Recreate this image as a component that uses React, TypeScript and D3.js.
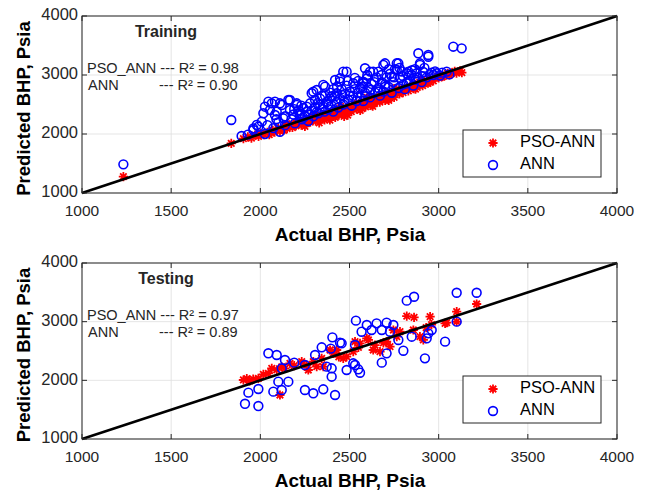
import React from "react";
import * as d3 from "d3";

const xTicks = [1000, 1500, 2000, 2500, 3000, 3500, 4000];
const yTicks = [1000, 2000, 3000, 4000];
const seriesNames = ["PSO-ANN", "ANN"];
const panelTitles = ["Training", "Testing"];
const r2Pso = ["0.98", "0.97"];
const r2Ann = ["0.90", "0.89"];

const trainPSO: [number, number][] = [
  [1232,1276],[1837,1842],[1905,1920],[1930,1950],[1950,1930],[1970,1980],[1990,1960],[2000,2010],[2020,1990],[2040,2030],
  [2050,1990],[2070,2060],[2080,2030],[2100,2090],[2110,2050],[2120,2080],[2140,2120],[2150,2090],[2160,2150],[2180,2110],
  [2190,2170],[2200,2140],[2220,2200],[2230,2150],[2240,2210],[2260,2190],[2270,2250],[2280,2200],[2300,2270],[2310,2220],
  [2320,2300],[2340,2260],[2350,2330],[2360,2240],[2380,2330],[2390,2237],[2400,2360],[2410,2300],[2430,2390],[2440,2320],
  [2450,2420],[2470,2370],[2480,2440],[2490,2320],[2500,2460],[2510,2380],[2530,2500],[2540,2420],[2550,2510],[2560,2400],
  [2580,2540],[2590,2460],[2600,2570],[2620,2490],[2630,2590],[2640,2520],[2660,2620],[2670,2540],[2680,2640],[2700,2570],
  [2710,2680],[2720,2600],[2740,2700],[2750,2620],[2760,2730],[2780,2680],[2790,2760],[2800,2700],[2820,2780],[2830,2730],
  [2840,2810],[2860,2770],[2870,2840],[2880,2790],[2900,2870],[2910,2820],[2920,2890],[2940,2860],[2950,2930],[2970,2900],
  [2980,2960],[3000,2950],[3010,2990],[3030,2980],[3050,3030],[3070,3020],[3090,3060],[3100,3030],[3120,3070],[3130,3040],
  [2150,2170],[2300,2320],[2450,2470],[2600,2620],[2750,2770],[2900,2920],[2200,2180],[2350,2300],[2500,2410],[2650,2560],
  [2800,2740],[2950,2880],[2420,2280],[2570,2430],[2720,2570],[2870,2760],[2250,2130],[2330,2190],
  [2060,2020],[2130,2060],[2210,2170],[2290,2240],[2370,2280],[2460,2350],[2520,2440],[2610,2530],[2690,2600],[2770,2720],
  [2850,2800],[2930,2870],[3020,2970],[2390,2360],[2550,2470],[2730,2650],[2890,2830],[3060,3000],[2470,2300],[2630,2470]
];

const trainANN: [number, number][] = [
  [1232,1486],[1837,2237],[1895,1966],[1930,1990],[1961,2068],[1961,2096],[1980,2153],[1989,2124],[2008,2209],[2017,2351],
  [2026,2463],[2026,2000],[2045,2548],[2054,2407],[2064,2520],[2073,2100],[2082,2322],[2082,2548],[2092,2379],[2101,2200],
  [2110,2520],[2110,2039],[2120,2492],[2129,2266],[2138,2150],[2157,2576],[2166,2407],[2166,2576],[2175,2250],[2185,2330],
  [2194,2180],[2204,2492],[2204,2520],[2213,2400],[2222,2351],[2222,2322],[2232,2250],[2241,2440],[2250,2300],[2260,2463],
  [2260,2380],[2269,2220],[2279,2520],[2288,2690],[2288,2400],[2297,2718],[2297,2300],[2307,2576],[2307,2450],[2316,2746],
  [2316,2370],[2325,2351],[2335,2600],[2335,2500],[2344,2420],[2353,2831],[2353,2463],[2363,2802],[2363,2650],[2372,2540],
  [2381,2420],[2391,2700],[2391,2600],[2400,2480],[2409,2760],[2409,2380],[2419,2915],[2419,2640],[2428,2690],[2428,2540],
  [2437,2450],[2447,2887],[2447,2944],[2447,2600],[2456,2760],[2465,3057],[2465,2500],[2475,2680],[2484,3057],[2484,2820],
  [2493,2580],[2503,2720],[2512,2480],[2521,2860],[2521,2650],[2531,2760],[2540,2560],[2549,2900],[2549,2700],[2559,2620],
  [2568,2800],[2577,2860],[2577,2887],[2577,2560],[2587,3114],[2587,2700],[2597,2940],[2606,2780],[2615,3057],[2615,2620],
  [2624,2850],[2633,3057],[2643,2700],[2652,2960],[2662,3057],[2662,2780],[2671,2650],[2681,2880],[2690,3170],[2690,2720],
  [2699,3198],[2708,2960],[2718,2800],[2727,3020],[2737,2972],[2737,2700],[2746,2880],[2755,3100],[2765,3198],[2765,3085],
  [2774,3198],[2774,2780],[2783,2950],[2793,3060],[2802,2840],[2811,2760],[2821,3029],[2830,3057],[2839,2900],[2849,3000],
  [2858,2820],[2867,3100],[2877,3029],[2886,3368],[2886,2950],[2895,3198],[2895,3170],[2905,2880],[2914,3050],[2933,2960],
  [2942,3339],[2942,3310],[2961,3040],[2970,3000],[2989,3029],[3008,2990],[3045,3057],[3060,3010],[3082,3480],[3129,3452],
  [2040,2150],[2090,2250],[2140,2300],[2190,2420],[2230,2480],[2270,2330],[2320,2520],[2345,2650],[2380,2500],[2400,2640],
  [2430,2800],[2460,2660],[2490,2900],[2500,2650],[2530,2950],[2560,2780],[2590,2640],[2600,3000],[2640,2880],[2660,2720],
  [2680,3000],[2700,2800],[2720,3100],[2750,2960],[2780,3120],[2800,2980],[2820,2860],[2850,3080],[2870,2920],[2920,3120],
  [2950,3010],[2980,3060],[2240,2280],[2360,2380],[2470,2560],[2620,2750],[2700,2840],[2830,2890],[2910,2980],[3020,3040]
];

const testPSO: [number, number][] = [
  [1905,2006],[1924,2030],[1940,1990],[1960,2020],[1989,2034],[2017,2100],[2045,2119],[2064,2205],[2092,2180],[2110,1750],
  [2120,2230],[2138,2205],[2166,2290],[2190,2250],[2232,2318],[2260,2261],[2269,2176],[2297,2318],[2316,2233],[2344,2375],
  [2353,2233],[2391,2517],[2409,2461],[2428,2517],[2440,2400],[2465,2375],[2484,2403],[2521,2488],[2531,2659],[2550,2560],
  [2559,2631],[2597,2716],[2606,2688],[2633,2517],[2643,2600],[2671,2488],[2690,2640],[2708,2659],[2727,2573],[2746,2858],
  [2765,2744],[2783,2829],[2821,3096],[2858,2858],[2862,3074],[2895,2744],[2914,2688],[2930,2900],[2952,3085],[2960,2950],
  [3036,2971],[3045,2983],[3101,3170],[3101,2999],[3213,3301]
];

const testANN: [number, number][] = [
  [1914,1600],[1933,1790],[1989,1852],[1989,1562],[2045,2461],[2092,2432],[2138,2346],[2190,2301],[2073,1807],[2120,1835],
  [2101,1977],[2157,1977],[2120,2205],[2250,2261],[2250,1835],[2297,1779],[2353,1847],[2419,1750],[2307,2432],[2344,2563],
  [2404,2733],[2395,2540],[2447,2642],[2372,2233],[2400,2205],[2400,2062],[2484,2176],[2521,2290],[2531,2261],[2549,2188],
  [2559,2130],[2456,2631],[2531,2602],[2536,3017],[2597,2943],[2652,2971],[2708,2982],[2746,2943],[2568,2829],[2624,2858],
  [2681,2858],[2727,2829],[2774,2688],[2849,2744],[2942,2801],[2961,2858],[2933,2716],[3036,2659],[3101,3000],[2708,2460],
  [2802,2505],[2681,2301],[2923,2375],[2821,3358],[2862,3425],[3101,3493],[3213,3493]
];

const panelData = [
  { pso: trainPSO, ann: trainANN },
  { pso: testPSO, ann: testANN },
];

const W = 646, H = 495;
const LEFT = 82, RIGHT = 617;
const panels = [
  { top: 16, bottom: 193 },
  { top: 263, bottom: 439 },
];
const FONT = "'Liberation Sans', Arial, Helvetica, sans-serif";
const AXC = "#262626";

const starPath = (s: number) => {
  const d = s * 0.7071;
  return `M${-s},0L${s},0M0,${-s}L0,${s}M${-d},${-d}L${d},${d}M${-d},${d}L${d},${-d}`;
};

function Panel({ idx }: { idx: number }) {
  const p = panels[idx];
  const data = panelData[idx];
  const x = d3.scaleLinear().domain([1000, 4000]).range([LEFT, RIGHT]);
  const y = d3.scaleLinear().domain([1000, 4000]).range([p.bottom, p.top]);
  const line = d3.line<[number, number]>().x(d => x(d[0])).y(d => y(d[1]));
  const tick = 5;
  const star = starPath(4.6);
  const legX = 463, legW = 138, legTop = p.bottom - 63, legH = 47;
  return (
    <g>
      <rect x={LEFT} y={p.top} width={RIGHT - LEFT} height={p.bottom - p.top} fill="#fff" />
      {xTicks.map(t => (
        <line key={"gx" + t} x1={x(t)} x2={x(t)} y1={p.top} y2={p.bottom} stroke="#dedede" strokeWidth={0.8} />
      ))}
      {yTicks.map(t => (
        <line key={"gy" + t} x1={LEFT} x2={RIGHT} y1={y(t)} y2={y(t)} stroke="#dedede" strokeWidth={0.8} />
      ))}
      {data.pso.map((d, i) => (
        <path key={"s" + i} d={star} transform={`translate(${x(d[0])},${y(d[1])})`} stroke="#ff0000" strokeWidth={1.8} fill="none" />
      ))}
      {data.ann.map((d, i) => (
        <circle key={"c" + i} cx={x(d[0])} cy={y(d[1])} r={4.4} stroke="#0000ff" strokeWidth={1.6} fill="none" />
      ))}
      <path d={line([[1000, 1000], [4000, 4000]]) || ""} stroke="#000" strokeWidth={2.6} fill="none" />
      {xTicks.map(t => (
        <g key={"tx" + t}>
          <line x1={x(t)} x2={x(t)} y1={p.bottom} y2={p.bottom - tick} stroke={AXC} />
          <line x1={x(t)} x2={x(t)} y1={p.top} y2={p.top + tick} stroke={AXC} />
          <text x={x(t)} y={p.bottom + 19} textAnchor="middle" dominantBaseline="middle" fontSize={15.5} fill={AXC} fontFamily={FONT}>{t}</text>
        </g>
      ))}
      {yTicks.map(t => (
        <g key={"ty" + t}>
          <line x1={LEFT} x2={LEFT + tick} y1={y(t)} y2={y(t)} stroke={AXC} />
          <line x1={RIGHT} x2={RIGHT - tick} y1={y(t)} y2={y(t)} stroke={AXC} />
          <text x={78} y={y(t)} textAnchor="end" dominantBaseline="middle" fontSize={16.5} fill={AXC} fontFamily={FONT}>{t}</text>
        </g>
      ))}
      <rect x={LEFT} y={p.top} width={RIGHT - LEFT} height={p.bottom - p.top} fill="none" stroke={AXC} strokeWidth={1} />
      <text x={166} y={p.top + 17} textAnchor="middle" dominantBaseline="middle" fontSize={16} fontWeight="bold" fill={AXC} fontFamily={FONT}>{panelTitles[idx]}</text>
      <text x={87} y={p.top + 53} dominantBaseline="middle" fontSize={14.5} fill={AXC} fontFamily={FONT}>{`PSO_ANN --- R² = ${r2Pso[idx]}`}</text>
      <text x={88} y={p.top + 70} dominantBaseline="middle" fontSize={14.5} fill={AXC} fontFamily={FONT}>ANN</text>
      <text x={159} y={p.top + 70} dominantBaseline="middle" fontSize={14.5} fill={AXC} fontFamily={FONT}>{`--- R² = ${r2Ann[idx]}`}</text>
      <rect x={legX} y={legTop} width={legW} height={legH} fill="#fff" stroke={AXC} strokeWidth={1} />
      <path d={star} transform={`translate(493,${legTop + 13})`} stroke="#ff0000" strokeWidth={1.8} fill="none" />
      <text x={520} y={legTop + 13} dominantBaseline="middle" fontSize={16.5} fill="#000" fontFamily={FONT}>{seriesNames[0]}</text>
      <circle cx={493} cy={legTop + 35} r={4.4} stroke="#0000ff" strokeWidth={1.6} fill="none" />
      <text x={520} y={legTop + 35} dominantBaseline="middle" fontSize={16.5} fill="#000" fontFamily={FONT}>{seriesNames[1]}</text>
      <text x={350} y={p.bottom + 43} textAnchor="middle" dominantBaseline="middle" fontSize={19} fontWeight="bold" fill="#000" fontFamily={FONT}>Actual BHP, Psia</text>
      <text transform={`translate(25,${(p.top + p.bottom) / 2 + 4}) rotate(-90)`} textAnchor="middle" dominantBaseline="middle" fontSize={18.5} fontWeight="bold" fill="#000" fontFamily={FONT}>Predicted BHP, Psia</text>
    </g>
  );
}

export default function App() {
  return (
    <svg width={W} height={H} style={{ position: "absolute", left: 0, top: 0, background: "#fff" }}>
      <rect width={W} height={H} fill="#fff" />
      <Panel idx={0} />
      <Panel idx={1} />
    </svg>
  );
}
